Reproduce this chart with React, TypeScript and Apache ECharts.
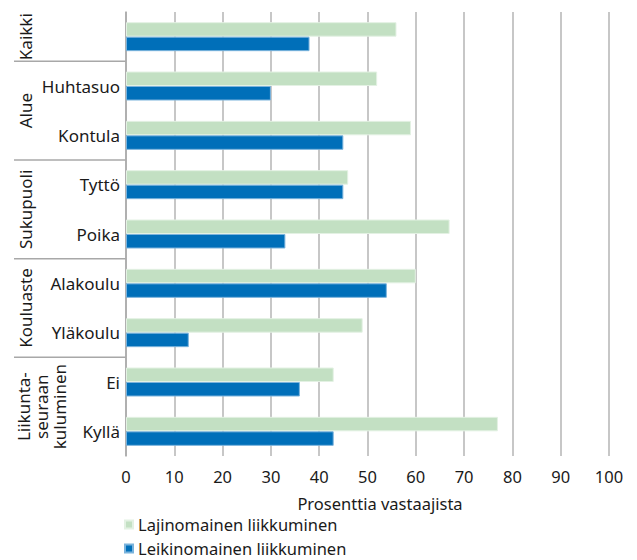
import React, { useEffect, useRef } from "react";
import * as echarts from "echarts";

const categories = ["Kaikki", "Huhtasuo", "Kontula", "Tyttö", "Poika", "Alakoulu", "Yläkoulu", "Ei", "Kyllä"];
const lajinomainen = [56, 52, 59, 46, 67, 60, 49, 43, 77];
const leikinomainen = [38, 30, 45, 45, 33, 54, 13, 36, 43];
const groupNames = ["Kaikki", "Alue", "Sukupuoli", "Kouluaste", "Liikunta-\nseuraan\nkuluminen"];
const groupSizes = [1, 2, 2, 2, 2];
const seriesNames = ["Lajinomainen liikkuminen", "Leikinomainen liikkuminen"];
const xTicks = { min: 0, max: 100, interval: 10 };

const FONT = "Noto Sans";
const GRID = { left: 126, right: 28, top: 12, bottom: 104 };
const H = 560;
const W = 637;

export default function App() {
  const ref = useRef<HTMLDivElement>(null);
  useEffect(() => {
    document.body.style.margin = "0";
    if (!ref.current) return;
    const chart = echarts.init(ref.current, undefined, { renderer: "svg" });

    const bandH = (H - GRID.top - GRID.bottom) / categories.length;
    const groupCenters: number[] = [];
    const boundaryYs: number[] = [];
    let acc = 0;
    groupSizes.forEach((s, i) => {
      groupCenters.push(GRID.top + bandH * (acc + s / 2));
      acc += s;
      if (i < groupSizes.length - 1) boundaryYs.push(GRID.top + bandH * acc);
    });

    const labelGraphics = groupNames.map((name, i) => {
      const lines = name.split("\n").length;
      return {
        type: "text",
        x: lines > 1 ? 41 : 25,
        y: groupCenters[i],
        rotation: Math.PI / 2,
        style: {
          text: name,
          fontFamily: FONT,
          fontSize: 17,
          fill: "#1a1a1a",
          align: "center",
          verticalAlign: "middle",
          lineHeight: 18,
        },
      };
    });
    const sepGraphics = boundaryYs.map((y) => ({
      type: "line",
      shape: { x1: 14, y1: y, x2: GRID.left, y2: y },
      style: { stroke: "#a8a8a8", lineWidth: 1.5 },
    }));

    const option: any = {
      animation: false,
      textStyle: { fontFamily: FONT },
      grid: { ...GRID, containLabel: false, outerBoundsMode: "none" },
      legend: {
        orient: "vertical",
        left: 124,
        top: 516,
        height: 44,
        padding: 0,
        itemWidth: 8,
        itemHeight: 8,
        itemGap: 7,
        icon: "rect",
        textStyle: { fontFamily: FONT, fontSize: 16.5, color: "#1a1a1a", lineHeight: 16 },
        data: seriesNames,
      },
      xAxis: {
        type: "value",
        min: xTicks.min,
        max: xTicks.max,
        interval: xTicks.interval,
        name: "Prosenttia vastaajista",
        nameLocation: "middle",
        nameGap: 39,
        nameTextStyle: { fontFamily: FONT, fontSize: 16.5, color: "#1a1a1a", padding: [0, 0, 0, 25] },
        axisLine: { show: false },
        axisTick: { show: false },
        axisLabel: { fontFamily: FONT, fontSize: 16.5, color: "#1a1a1a", margin: 12 },
        splitLine: { show: true, lineStyle: { color: "#b4b4b4", width: 1.5 } },
      },
      yAxis: {
        type: "category",
        inverse: true,
        data: categories,
        axisLine: { show: true, lineStyle: { color: "#a8a8a8", width: 1.5 } },
        axisTick: { show: false },
        axisLabel: {
          fontFamily: FONT,
          fontSize: 17,
          color: "#1a1a1a",
          margin: 6,
          interval: 0,
          formatter: (v: string, i: number) => (i === 0 ? "" : v),
        },
      },
      series: [
        {
          name: seriesNames[0],
          type: "bar",
          data: lajinomainen,
          barWidth: 14.5,
          barGap: "0%",
          itemStyle: { color: "#c3e0c3", borderColor: "#e3f1e3", borderWidth: 1 },
        },
        {
          name: seriesNames[1],
          type: "bar",
          data: leikinomainen,
          barWidth: 14.5,
          barGap: "0%",
          itemStyle: { color: "#006fb9", borderColor: "#7ab3dc", borderWidth: 1 },
        },
      ],
      graphic: [...sepGraphics, ...labelGraphics],
    };
    chart.setOption(option);
    return () => chart.dispose();
  }, []);
  return <div ref={ref} style={{ width: W, height: H }} />;
}
